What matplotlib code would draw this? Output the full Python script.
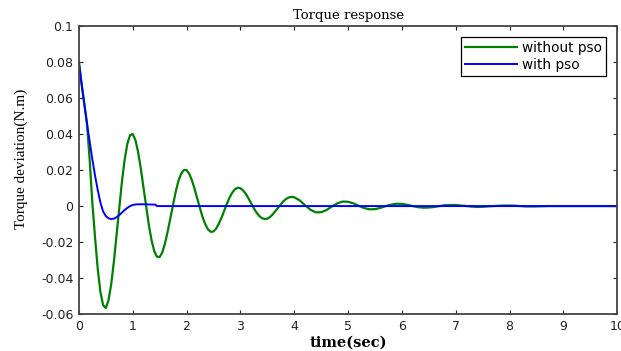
import matplotlib
matplotlib.use("Agg")
import matplotlib.pyplot as plt

# torque deviation (time in s, torque in N.m)
green_t = [0.00, 0.05, 0.10, 0.15, 0.20, 0.25, 0.30, 0.35, 0.40, 0.45,
           0.50, 0.55, 0.60, 0.65, 0.70, 0.75, 0.80, 0.85, 0.90, 0.95,
           1.00, 1.05, 1.10, 1.15, 1.20, 1.25, 1.30, 1.35, 1.40, 1.45,
           1.50, 1.55, 1.60, 1.65, 1.70, 1.75, 1.80, 1.85, 1.90, 1.95,
           2.00, 2.05, 2.10, 2.15, 2.20, 2.25, 2.30, 2.35, 2.40, 2.45,
           2.50, 2.55, 2.60, 2.65, 2.70, 2.75, 2.80, 2.85, 2.90, 2.95,
           3.00, 3.05, 3.10, 3.15, 3.20, 3.25, 3.30, 3.35, 3.40, 3.45,
           3.50, 3.55, 3.60, 3.65, 3.70, 3.75, 3.80, 3.85, 3.90, 3.95,
           4.00,
           4.1, 4.2, 4.3, 4.4, 4.5, 4.6, 4.7, 4.8, 4.9, 5.0,
           5.1, 5.2, 5.3, 5.4, 5.5, 5.6, 5.7, 5.8, 5.9, 6.0,
           6.1, 6.2, 6.3, 6.4, 6.5, 6.6, 6.7, 6.8, 6.9, 7.0,
           7.1, 7.2, 7.3, 7.4, 7.5, 7.6, 7.7, 7.8, 7.9, 8.0,
           8.1, 8.2, 8.3, 8.4, 8.5, 8.6, 8.7,
           10.0]
without_pso = [0.080, 0.068, 0.057, 0.046, 0.026, 0.002, -0.0173, -0.0347, -0.0476, -0.0550,
               -0.0566, -0.0524, -0.0435, -0.0309, -0.0161, -0.0008, 0.0136, 0.0258, 0.0345, 0.0393,
               0.0400, 0.0367, 0.0301, 0.0209, 0.0103, -0.0005, -0.0106, -0.0190, -0.0250, -0.0281,
               -0.0283, -0.0257, -0.0207, -0.0141, -0.0066, 0.0011, 0.0082, 0.0140, 0.0180, 0.0200,
               0.0200, 0.0179, 0.0143, 0.0095, 0.0041, -0.0013, -0.0063, -0.0103, -0.0130, -0.0143,
               -0.0141, -0.0125, -0.0098, -0.0064, -0.0025, 0.0013, 0.0048, 0.0075, 0.0094, 0.0102,
               0.0099, 0.0087, 0.0068, 0.0043, 0.0015, -0.0012, -0.0036, -0.0055, -0.0067, -0.0072,
               -0.0070, -0.0061, -0.0046, -0.0028, -0.0009, 0.0010, 0.0027, 0.0040, 0.0048, 0.0051,
               0.0049,
               0.0032, 0.0005, -0.0020, -0.0035, -0.0034, -0.0022, -0.0002, 0.0015, 0.0025, 0.0024,
               0.0015, 0.0001, -0.0011, -0.0018, -0.0017, -0.0010, 0.0000, 0.0008, 0.0013, 0.0012,
               0.0007, 0.0000, -0.0006, -0.0009, -0.0008, -0.0005, 0.0000, 0.0005, 0.0006, 0.0006,
               0.0003, 0.0000, -0.0003, -0.0005, -0.0004, -0.0002, 0.0000, 0.0002, 0.0003, 0.0003,
               0.0002, 0.0000, -0.0002, -0.0002, -0.0002, -0.0001, 0.0000,
               0.0]

blue_t = [0.00, 0.05, 0.10, 0.15, 0.20, 0.25, 0.30, 0.35, 0.40, 0.45,
          0.50, 0.55, 0.60, 0.65, 0.70, 0.75, 0.80, 0.85, 0.90, 0.95,
          1.00, 1.05, 1.10, 1.20, 1.30, 1.42, 1.45, 10.0]
with_pso = [0.080, 0.068, 0.057, 0.046, 0.036, 0.026, 0.017, 0.009, 0.002, -0.003,
            -0.0055, -0.0068, -0.0072, -0.0070, -0.0062, -0.0050, -0.0036, -0.0022, -0.0010, 0.0000,
            0.0006, 0.0009, 0.0010, 0.0010, 0.0009, 0.0008, 0.0000, 0.0000]

x_ticks = [0, 1, 2, 3, 4, 5, 6, 7, 8, 9, 10]
y_ticks = [-0.06, -0.04, -0.02, 0, 0.02, 0.04, 0.06, 0.08, 0.1]
y_labels = ["-0.06", "-0.04", "-0.02", "0", "0.02", "0.04", "0.06", "0.08", "0.1"]

plt.rcParams["font.family"] = "DejaVu Sans"

fig = plt.figure(figsize=(6.21, 3.51), dpi=100)
ax = fig.add_axes([0.127, 0.105, 0.867, 0.821])

ax.plot(green_t, without_pso, color="#008000", linewidth=1.6, label="without pso")
ax.plot(blue_t, with_pso, color="#0000ff", linewidth=1.4, label="with pso")

ax.set_xlim(0, 10)
ax.set_ylim(-0.06, 0.1)
ax.set_xticks(x_ticks)
ax.set_yticks(y_ticks)
ax.set_yticklabels(y_labels)
ax.tick_params(direction="in", length=3, width=0.8, labelsize=9, pad=4,
               top=True, right=True, colors="#222222")

for sp in ax.spines.values():
    sp.set_linewidth(1.3)
    sp.set_color("#444444")

ax.set_title("Torque response", family="DejaVu Serif", fontsize=9.5, pad=5)
ax.set_xlabel("time(sec)", family="DejaVu Serif", fontweight="bold", fontsize=10.5, labelpad=2)
ax.set_ylabel("Torque deviation(N.m)", family="Liberation Serif", fontsize=11)
ax.yaxis.set_label_coords(-0.095, 0.54)

leg = ax.legend(loc="upper right", fontsize=9.8, fancybox=False, framealpha=1,
                edgecolor="black", handlelength=3.8, borderaxespad=0.8,
                labelspacing=0.2, borderpad=0.3, handletextpad=0.4)
leg.get_frame().set_linewidth(0.9)

fig.savefig("out.png", dpi=100)
